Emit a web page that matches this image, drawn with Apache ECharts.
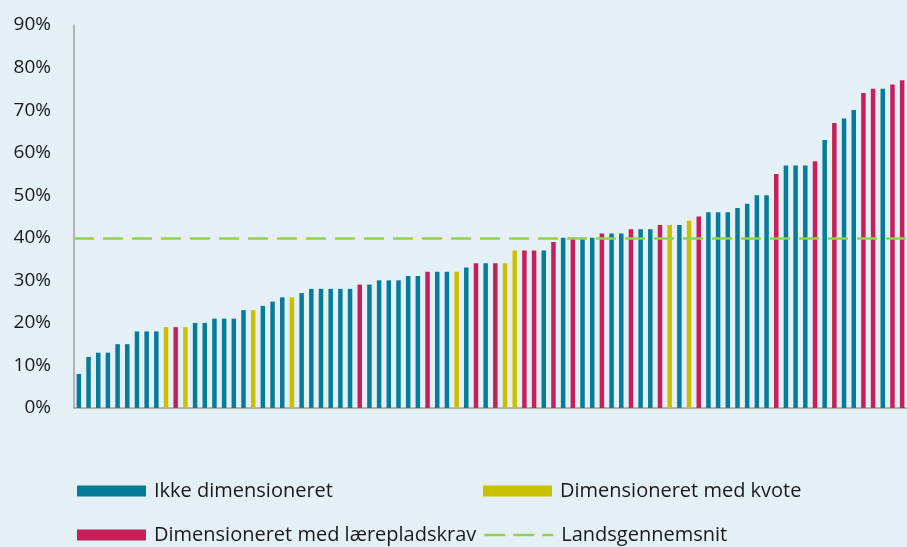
<!DOCTYPE html>
<html>
<head>
<meta charset="utf-8">
<script src="https://cdn.jsdelivr.net/npm/echarts@6/dist/echarts.min.js"></script>
<style>
html,body{margin:0;padding:0;background:#e5f0f6;}
#chart{width:907px;height:547px;}
</style>
</head>
<body>
<div id="chart"></div>
<script>
// andel pr. uddannelse (%), sorteret stigende
var values = [8,12,13,13,15,15,18,18,18,19,19,19,20,20,21,21,21,23,23,24,25,26,26,27,28,28,28,28,28,29,
	29,30,30,30,31,31,32,32,32,32,33,34,34,34,34,37,37,37,37,39,40,40,40,40,41,41,41,42,42,42,
	43,43,43,44,45,46,46,46,47,48,50,50,55,57,57,57,58,63,67,68,70,74,75,75,76,77];
// I = ikke dimensioneret, K = kvote, L = lærepladskrav
var groups = ['I','I','I','I','I','I','I','I','I','K','L','K','I','I','I','I','I','I','K','I','I','I','K','I','I','I','I','I','I','L',
	'I','I','I','I','I','I','L','I','I','K','I','L','I','L','K','K','L','L','I','L','I','L','I','I','L','I','I','L','I','I',
	'L','K','I','K','L','I','I','I','I','I','I','I','L','I','I','I','L','I','L','I','I','L','L','I','L','L'];
var landsgennemsnit = 40;
var yTicks = [0,10,20,30,40,50,60,70,80,90];

var categories = values.map(function(v, i){ return 'U' + (i + 1); });
function pick(code){
	return values.map(function(v, i){ return groups[i] === code ? v : null; });
}

var font = "'Open Sans', sans-serif";
//legend, en pr. felt
function legendItem(name, left, top, icon){
	return {
		left: left, top: top, padding: 0, itemWidth: 69, itemHeight: 11,
		textStyle: { fontSize: 20, lineHeight: 22, color: '#1a1a1a', fontFamily: font, padding: [0, 0, 0, 3] },
		data: [{ name: name, icon: icon }]
	};
}
var lineLegend = legendItem('Landsgennemsnit', 483, 524, 'inherit');
lineLegend.itemStyle = { opacity: 0 };
lineLegend.lineStyle = { color: '#92d050', width: 2.5, type: [21, 8], opacity: 1 };

var chart = echarts.init(document.getElementById('chart'));
chart.setOption({
	backgroundColor: '#e5f0f6',
	animation: false,
	textStyle: { fontFamily: font },
	grid: { left: 74, right: 0, top: 25, bottom: 139 },
	legend: [
		legendItem('Ikke dimensioneret', 77, 480, 'rect'),
		legendItem('Dimensioneret med lærepladskrav', 77, 524, 'rect'),
		legendItem('Dimensioneret med kvote', 483, 480, 'rect'),
		lineLegend
	],
	xAxis: {
		type: 'category',
		data: categories,
		axisLine: { lineStyle: { color: '#a0a0a0', width: 1.5 } },
		axisTick: { show: false },
		axisLabel: { show: false }
	},
	yAxis: {
		type: 'value',
		min: yTicks[0], max: yTicks[yTicks.length - 1], interval: 10,
		axisLine: { show: true, lineStyle: { color: '#a0a0a0', width: 1.5 } },
		axisTick: { show: false },
		splitLine: { show: false },
		axisLabel: { formatter: '{value}%', fontSize: 19, color: '#1a1a1a', margin: 23, fontFamily: font }
	},
	series: [{
		name: 'Ikke dimensioneret', type: 'bar', barWidth: 4.5, barGap: '-100%',
		itemStyle: { color: '#057c9a' }, data: pick('I')
	}, {
		name: 'Dimensioneret med kvote', type: 'bar', barWidth: 4.5, barGap: '-100%',
		itemStyle: { color: '#cbc000' }, data: pick('K')
	}, {
		name: 'Dimensioneret med lærepladskrav', type: 'bar', barWidth: 4.5, barGap: '-100%',
		itemStyle: { color: '#c6205b' }, data: pick('L')
	}, {
		name: 'Landsgennemsnit', type: 'line', symbol: 'none', data: [],
		itemStyle: { color: '#92d050' },
		lineStyle: { color: '#92d050', width: 2.5, type: [21, 8] },
		markLine: {
			silent: true, symbol: 'none', label: { show: false },
			lineStyle: { color: '#92d050', width: 2.5, type: [20, 9] },
			data: [{ yAxis: landsgennemsnit }]
		}
	}]
});
</script>
</body>
</html>
